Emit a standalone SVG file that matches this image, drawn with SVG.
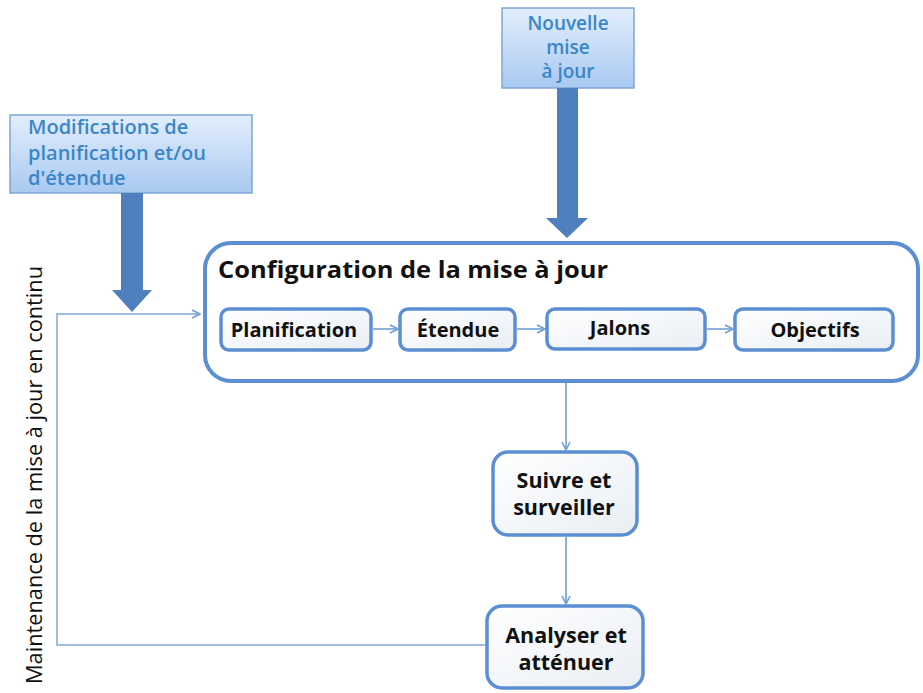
<svg xmlns="http://www.w3.org/2000/svg" width="923" height="693" viewBox="0 0 923 693">
<defs>
<linearGradient id="gBlue" x1="0" y1="0" x2="0" y2="1">
<stop offset="0" stop-color="#e3eefc"/>
<stop offset="1" stop-color="#a9c9f1"/>
</linearGradient>
<linearGradient id="gWhite" x1="0" y1="0" x2="1" y2="1">
<stop offset="0" stop-color="#ffffff"/>
<stop offset="1" stop-color="#e9eef4"/>
</linearGradient>
<marker id="chev" viewBox="0 0 10 10" refX="9" refY="5" markerWidth="10" markerHeight="10" markerUnits="userSpaceOnUse" orient="auto">
<path d="M1,1 L9,5 L1,9" fill="none" stroke="#6f9fd8" stroke-width="1.6"/>
</marker>
</defs>
<style>
.note{fill:url(#gBlue);stroke:#7ea6d6;stroke-width:1.5}
.noteT{font-family:"Open Sans","DejaVu Sans",sans-serif;font-weight:600;fill:#3a86c8}
.big{fill:#ffffff;stroke:#5b8fd1;stroke-width:4}
.box{fill:url(#gWhite);stroke:#5b8fd1;stroke-width:3.5}
.lbl{font-family:"Open Sans","DejaVu Sans",sans-serif;font-weight:700;fill:#111;text-anchor:middle}
.fat{fill:#4f7fbf}
.conn{fill:none;stroke:#6f9fd8;stroke-width:1.6}
.loop{fill:none;stroke:#9dbde3;stroke-width:2}
</style>
<g id="modifs">
<rect class="note" x="10" y="115" width="242" height="78"/>
<text class="noteT" x="28" y="134" font-size="20">Modifications de</text>
<text class="noteT" x="28" y="159.5" font-size="20">planification et/ou</text>
<text class="noteT" x="28" y="185" font-size="20">d'étendue</text>
</g>
<g id="nouvelle">
<rect class="note" x="502" y="8" width="132" height="80"/>
<text class="noteT" x="568" y="30" font-size="19" text-anchor="middle">Nouvelle</text>
<text class="noteT" x="568" y="54" font-size="19" text-anchor="middle">mise</text>
<text class="noteT" x="568" y="78" font-size="19" text-anchor="middle">à jour</text>
</g>
<g id="config">
<rect class="big" x="205" y="243" width="713" height="138" rx="26"/>
<text class="lbl" x="218" y="278" font-size="24" style="text-anchor:start" textLength="390" lengthAdjust="spacingAndGlyphs">Configuration de la mise à jour</text>
</g>
<g id="planification">
<rect class="box" x="221" y="309" width="150" height="41" rx="8"/>
<text class="lbl" x="294" y="337" font-size="20">Planification</text>
</g>
<g id="etendue">
<rect class="box" x="400" y="309" width="115" height="41" rx="8"/>
<text class="lbl" x="458" y="337" font-size="20">Étendue</text>
</g>
<g id="jalons">
<rect class="box" x="547" y="309" width="158" height="40" rx="8"/>
<text class="lbl" x="620" y="335" font-size="20">Jalons</text>
</g>
<g id="objectifs">
<rect class="box" x="735" y="309" width="158" height="41" rx="8"/>
<text class="lbl" x="815" y="337" font-size="20">Objectifs</text>
</g>
<g id="suivre">
<rect class="box" x="493" y="452" width="144" height="83" rx="15"/>
<text class="lbl" x="564" y="488" font-size="21.5">Suivre et</text>
<text class="lbl" x="564" y="515" font-size="21.5">surveiller</text>
</g>
<g id="analyser">
<rect class="box" x="487" y="606" width="156" height="82" rx="15"/>
<text class="lbl" x="566" y="643" font-size="21.5">Analyser et</text>
<text class="lbl" x="566" y="670" font-size="21.5">atténuer</text>
</g>
<text x="42" y="475" transform="rotate(-90 42 475)" text-anchor="middle" font-family="'Open Sans','DejaVu Sans',sans-serif" font-size="21" fill="#111" textLength="418" lengthAdjust="spacingAndGlyphs">Maintenance de la mise à jour en continu</text>
<g id="connectors">
<path class="fat" d="M121,193 H143 V290 H152 L132,312 L112,290 H121 Z"/>
<path class="fat" d="M557,88 H578 V218 H588 L567,238 L546,218 H557 Z"/>
<line class="conn" x1="373" y1="329" x2="398" y2="329" marker-end="url(#chev)"/>
<line class="conn" x1="517" y1="329" x2="545" y2="329" marker-end="url(#chev)"/>
<line class="conn" x1="707" y1="329" x2="733" y2="329" marker-end="url(#chev)"/>
<line class="conn" x1="566" y1="383" x2="566" y2="450" marker-end="url(#chev)"/>
<line class="conn" x1="566" y1="537" x2="566" y2="604" marker-end="url(#chev)"/>
<path class="loop" d="M485,645 H57 V314 H200" marker-end="url(#chev)"/>
</g>
</svg>
